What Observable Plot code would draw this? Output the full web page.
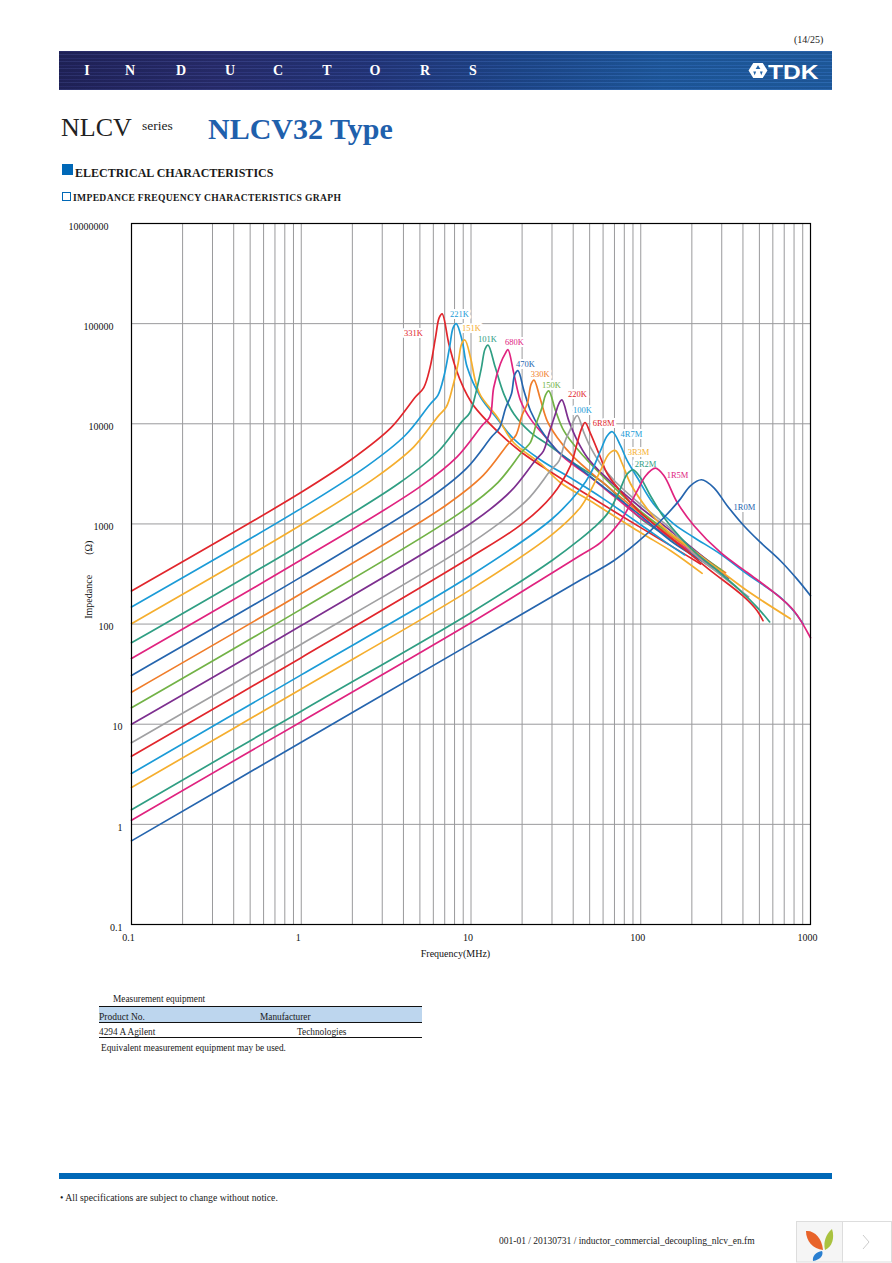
<!DOCTYPE html>
<html>
<head>
<meta charset="utf-8">
<script src="https://cdn.jsdelivr.net/npm/d3@7"></script>
<script src="https://cdn.jsdelivr.net/npm/@observablehq/plot@0.6"></script>
<style>
html,body{margin:0;padding:0;background:#fff;width:892px;height:1263px;overflow:hidden}
body{position:relative;font-family:"Liberation Serif",serif;color:#1a1a1a}
.t{position:absolute;white-space:nowrap;line-height:1}
.b{position:absolute}
#chart{position:absolute;left:0;top:200px}
#banner{left:59px;top:51px;width:773px;height:39px;
 background:
  repeating-linear-gradient(0deg,rgba(120,140,220,.12) 0 1px,rgba(10,10,50,.16) 1px 3px,rgba(90,90,190,.10) 3px 4px,rgba(0,0,30,.12) 4px 7px),
  linear-gradient(90deg,#22255c 0%,#2a2f70 20%,#25397f 40%,#1f4d92 60%,#2060a6 78%,#2163a8 100%)}
</style>
</head>
<body>
<div class="t" style="left:794px;top:35px;font-size:10px">(14/25)</div>
<div class="b" id="banner"></div>
<div id="letters"></div>
<svg class="b" style="left:748px;top:62px" width="20" height="17" viewBox="0 0 20 18">
 <polygon points="5,1 15,1 20,9 15,17 5,17 0,9" fill="#fff"/>
 <polygon points="10,3.5 12.5,7.5 7.5,7.5" fill="#2163a8"/>
 <polygon points="5,10 8,10 6.5,14" fill="#2163a8"/>
 <polygon points="15,10 12,10 13.5,14" fill="#2163a8"/>
</svg>
<div class="t" style="left:768px;top:60px;font:bold 21px 'Liberation Sans',sans-serif;color:#fff;transform:scaleX(1.17);transform-origin:left top">TDK</div>

<div class="t" style="left:61px;top:115px;font-size:26px;color:#222">NLCV</div>
<div class="t" style="left:142px;top:119px;font-size:13.5px;color:#222">series</div>
<div class="t" style="left:208px;top:114px;font-size:30px;font-weight:bold;color:#1f60ac">NLCV32 Type</div>

<div class="b" style="left:62px;top:164px;width:11px;height:11px;background:#0068b7"></div>
<div class="t" style="left:75px;top:167px;font-size:12px;font-weight:bold">ELECTRICAL CHARACTERISTICS</div>
<div class="b" style="left:62px;top:192px;width:7px;height:7px;border:1px solid #0068b7"></div>
<div class="t" style="left:73px;top:193px;font-size:9.6px;font-weight:bold;letter-spacing:.33px">IMPEDANCE FREQUENCY CHARACTERISTICS GRAPH</div>

<div id="chart"></div>

<div class="t" style="left:113px;top:995px;font-size:9.3px">Measurement equipment</div>
<div class="b" style="left:99px;top:1006px;width:323px;height:17px;background:#bdd6ee;border-top:1px solid #111;border-bottom:1px solid #111;box-sizing:border-box"></div>
<div class="t" style="left:99px;top:1013px;font-size:9.5px">Product No.</div>
<div class="t" style="left:260px;top:1013px;font-size:9.3px">Manufacturer</div>
<div class="t" style="left:99px;top:1028px;font-size:9.3px">4294 A Agilent</div>
<div class="t" style="left:297px;top:1028px;font-size:9.3px">Technologies</div>
<div class="b" style="left:99px;top:1037px;width:323px;height:1px;background:#111"></div>
<div class="t" style="left:101px;top:1044px;font-size:9.3px">Equivalent measurement equipment may be used.</div>

<div class="b" style="left:59px;top:1173px;width:773px;height:6px;background:#0068b7"></div>
<div class="t" style="left:60px;top:1193px;font-size:9.7px">• All specifications are subject to change without notice.</div>
<div class="t" style="left:499px;top:1237px;font-size:9.5px">001-01 / 20130731 / inductor_commercial_decoupling_nlcv_en.fm</div>

<svg class="b" style="left:796px;top:1221px" width="96" height="42" viewBox="0 0 96 42">
 <rect x=".5" y=".5" width="46" height="40.5" fill="#f5f5f5" stroke="#ddd"/>
 <rect x="46.5" y=".5" width="49" height="40.5" fill="#fff" stroke="#ddd"/>
 <path d="M10 10 C18 9 26 17 27 29 C17 28 10 20 10 10Z" fill="#e8632a"/>
 <path d="M36 8 C39 17 36 26 29 29 C27 21 30 13 36 8Z" fill="#a9c23f"/>
 <path d="M26 30 C28 34 24 39 17 40 C16 35 20 31 26 30Z" fill="#2a7fd0"/>
 <path d="M67 14 L73 21 L67 28" fill="none" stroke="#ccc" stroke-width="1"/>
</svg>

<script>
// Tick values and labels as printed on the chart
const xTicks = [0.1, 1, 10, 100, 1000];
const xTickLabels = ["0.1", "1", "10", "100", "1000"];
const yTicks = [1e6, 1e5, 1e4, 1e3, 100, 10, 1, 0.1];
const yTickLabels = ["10000000", "100000", "10000", "1000", "100", "10", "1", "0.1"];
const gridF = [0.2,0.3,0.4,0.5,0.6,0.7,0.8,0.9,1,2,3,4,5,6,7,8,9,10,20,30,40,50,60,70,80,90,100,200,300,400,500,600,700,800,900];

// Impedance curves: frequency (MHz) and impedance (ohm)
const f331K = [0.1,1,2.03,3.38,4.73,5.27,5.74,6.18,6.49,6.76,7.4,8.1,9.08,10,10.9,15,20,30,50,100,150,225];
const z331K = [214,2070,4550,9140,18700,23000,36600,72900,114000,125000,63000,36500,22400,16600,13600,7780,5140,3240,1890,918,607,398];
const f221K = [0.1,1,2.45,4.09,5.73,6.38,6.95,7.48,7.85,8.18,8.87,9.5,11.4,14.3,17.8,25.6,40,60,100,150,181];
const z221K = [148,1430,3800,7640,15600,19200,30500,58300,91200,100000,67600,36600,18400,11200,7090,4380,2770,1790,982,607,492];
const f151K = [0.1,1,2.75,4.59,6.43,7.16,7.8,8.39,8.81,9.2,9.93,10.6,11.4,14.3,17.8,25.6,33.6,50,100,150,230];
const z151K = [101,980,2920,5860,12000,14800,23400,39800,62700,68700,46000,26900,19100,11600,6510,4020,2590,1710,817,540,321];
const f101K = [0.1,1,3.78,6.31,8.83,9.84,10.7,11.5,12.1,12.6,13.9,15.6,17.9,22.4,28.1,40,60,100,150,265];
const z101K = [65,628,2560,5140,10500,12900,20600,35700,55800,61000,36600,19900,12500,8200,6280,4080,2580,1130,711,359];
const f680K = [0.1,1,4.97,8.28,11.6,12.9,13.6,14.9,15.9,16.5,17.9,19.6,22.4,28.1,35.2,50,70,100,150,287];
const z680K = [45.3,438,2330,4680,9570,11700,22900,39800,50100,55000,31500,17000,11200,7050,4610,2970,1870,1150,728,340];
const f470K = [0.1,1,5.66,9.44,13.2,14.7,16,17.3,18.1,18.9,20.5,22.4,25.6,32.2,40.4,60,100,150,240];
const z470K = [30.7,296,1800,3610,7380,9080,14400,19800,30900,33900,21400,13500,8870,5380,3990,2360,1210,679,409];
const f330K = [0.1,1,7.06,11.8,16.5,18.4,20,21.5,22.6,23.5,25.6,28.1,32.2,40.4,60,100,150,316];
const z330K = [20.9,202,1520,3050,6250,7690,12200,16000,24900,27300,17700,10700,7310,4610,2580,1270,762,325];
const f220K = [0.1,1,8.61,14.4,20.1,22.4,24.4,26.2,27.5,28.7,31.5,35.2,42.3,60,100,150,303];
const z220K = [14.6,141,1290,2590,5310,6530,10400,14500,19400,21300,13500,8530,5600,2970,1330,798,340];
const f150K = [0.1,1,10.3,17.1,24,26.7,29.1,31.3,32.9,34.3,37.7,42.3,48.4,60,100,150,330];
const z150K = [10,96.6,1050,2110,4330,5330,8470,12300,15800,17300,10700,6780,4610,3100,1450,855,288];
const f100K = [0.1,1,10,21.1,29.6,33,35.9,38.6,40.6,42.3,46.2,50.6,57.9,70,100,150,200,300,432];
const z100K = [6.52,63,643,1690,3470,4270,6780,8910,11100,12100,8200,5810,3990,2700,1560,895,527,303,187];
const f6R8M = [0.1,1,10,20,30,38.5,42.3,45,47,50.6,57.9,63.5,80,100,150,250,400,485,525];
const z6R8M = [4.79,46.2,468,1000,1910,3800,6520,9100,10300,7960,4610,3170,1910,1290,728,356,191,136,108];
const f4R7M = [0.1,1,10,30,44.2,50.6,57.9,63.5,68,76,83.2,95.3,119,157,206,295,424,665,794,906];
const z4R7M = [3.22,31.1,307,1120,2250,3180,5380,7600,8330,6040,4280,2910,1580,995,733,500,315,185,136,100];
const f3R3M = [0.1,1,10,30,44.2,50.6,57.9,64.9,71,77.8,87.1,109,143,206,295,424,762];
const z3R3M = [2.33,22.5,222,782,1470,2150,3400,4990,5400,3990,2520,1420,855,540,340,215,113];
const f2R2M = [0.1,1,10,30,44.2,52.9,63.5,74.3,83.2,90,99.5,114,137,171,215,269,387,485,575];
const z2R2M = [1.40,13.5,130,432,708,918,1260,2070,3150,3470,2910,1910,1160,733,500,367,215,147,105];
const f1R5M = [0.1,1,10,30,44.2,57.9,76,95.3,107,122,137,164,206,295,424,608,798,1000];
const z1R5M = [1.10,10.6,103,324,486,650,1070,2140,3030,3600,3030,1640,960,519,327,207,136,73];
const f1R0M = [0.1,1,10,44.2,69.3,95.3,137,171,196,228,269,323,405,508,665,834,1000];
const z1R0M = [0.684,6.6,63.8,275,429,653,1160,1770,2400,2760,2310,1520,960,653,429,281,192];

// Series in drawing order
const seriesNames = ["331K","221K","151K","101K","680K","470K","330K","150K","220K","100K","6R8M","4R7M","3R3M","2R2M","1R5M","1R0M"];
const seriesF = [f331K,f221K,f151K,f101K,f680K,f470K,f330K,f220K,f150K,f100K,f6R8M,f4R7M,f3R3M,f2R2M,f1R5M,f1R0M];
const seriesZ = [z331K,z221K,z151K,z101K,z680K,z470K,z330K,z220K,z150K,z100K,z6R8M,z4R7M,z3R3M,z2R2M,z1R5M,z1R0M];
const seriesColors = ["#e1262c","#1b9bd7","#f5ae2e","#2f9e83","#e0237f","#2565ae","#f07c29","#72b246","#7d2f8f","#a0a0a2","#e1262c","#1b9bd7","#f5ae2e","#2f9e83","#e0237f","#2565ae"];

// Curve labels: where they sit on the chart (MHz, ohm)
const labelText = ["331K","221K","151K","101K","680K","470K","330K","150K","220K","100K","6R8M","4R7M","3R3M","2R2M","1R5M","1R0M"];
const labelF = [4.58,8.55,10.07,12.5,18,20.9,25.6,29.8,42.4,45.4,60.4,88.1,97,106.7,164.6,408];
const labelZ = [79400,123000,89100,69200,64600,38900,30900,24000,19500,13800,10200,7940,5250,3980,3090,1480];
const labelColors = ["#e1262c","#1b9bd7","#f5ae2e","#2f9e83","#e0237f","#2565ae","#f07c29","#72b246","#e1262c","#1b9bd7","#e1262c","#1b9bd7","#f5ae2e","#2f9e83","#e0237f","#2565ae"];

// Banner letters
const bannerLetters = ["I","N","D","U","C","T","O","R","S"];
const bannerCenters = [87,130,181,230,278,327,375,425,473];
const host = document.getElementById("letters");
bannerLetters.forEach((c,i)=>{
  const d=document.createElement("div");
  d.className="t";
  d.textContent=c;
  d.style.cssText=`left:${bannerCenters[i]-8}px;width:16px;text-align:center;top:64px;font-size:14px;font-weight:bold;color:#fff`;
  host.appendChild(d);
});

const rows = seriesNames.flatMap((name,i)=>seriesF[i].map((f,j)=>({name,f,z:seriesZ[i][j],order:i})));
const labels = labelText.map((t,i)=>({t,f:labelF[i],z:labelZ[i],c:labelColors[i]}));
const tickLabel = (vals,labs)=>d=>labs[vals.indexOf(d)];

const chart = Plot.plot({
  width:892, height:800,
  marginLeft:131, marginRight:82, marginTop:23, marginBottom:76,
  x:{type:"log",domain:[0.1,1000]},
  y:{type:"log",domain:[0.1,1e6]},
  style:{fontFamily:"Liberation Serif, serif",fontSize:"10px",background:"transparent",color:"#111"},
  marks:[
    Plot.ruleX(gridF,{stroke:"#9a9a9c",strokeWidth:1,strokeOpacity:1}),
    Plot.ruleY(yTicks,{stroke:"#9a9a9c",strokeWidth:1,strokeOpacity:1}),
    Plot.text(labels,{x:"f",y:"z",text:"t",fill:"#fff",stroke:"#fff",strokeWidth:4,fontSize:8.5,fontWeight:"bold"}),
    Plot.text(labels,{x:"f",y:"z",text:"t",fill:"c",fontSize:8.5}),
    ...seriesNames.map((name,i)=>Plot.line(rows.filter(r=>r.order===i),{x:"f",y:"z",stroke:seriesColors[i],strokeWidth:1.7,curve:"catmull-rom"})),
    Plot.frame({stroke:"#000",strokeWidth:1.2}),
    Plot.axisX({ticks:xTicks,tickSize:0,tickPadding:9,dx:-3,label:null,tickFormat:tickLabel(xTicks,xTickLabels),anchor:"bottom"}),
    Plot.axisY({ticks:[1e6],tickSize:0,tickPadding:23,dy:3,label:null,tickFormat:tickLabel(yTicks,yTickLabels),anchor:"left"}),
    Plot.axisY({ticks:[1e5,1e4,1e3,100],tickSize:0,tickPadding:18,dy:3,label:null,tickFormat:tickLabel(yTicks,yTickLabels),anchor:"left"}),
    Plot.axisY({ticks:[10,1,0.1],tickSize:0,tickPadding:9,dy:3,label:null,tickFormat:tickLabel(yTicks,yTickLabels),anchor:"left"}),
    Plot.text(["Frequency(MHz)"],{x:[8.1],y:[0.0508],text:d=>d,fontSize:10}),
    Plot.text(["Impedance"],{x:[0.0558],y:[187],text:d=>d,fontSize:10,rotate:-90}),
    Plot.text(["(Ω)"],{x:[0.0558],y:[578],text:d=>d,fontSize:10,rotate:-90})
  ]
});
document.getElementById("chart").appendChild(chart);
</script>
</body>
</html>
